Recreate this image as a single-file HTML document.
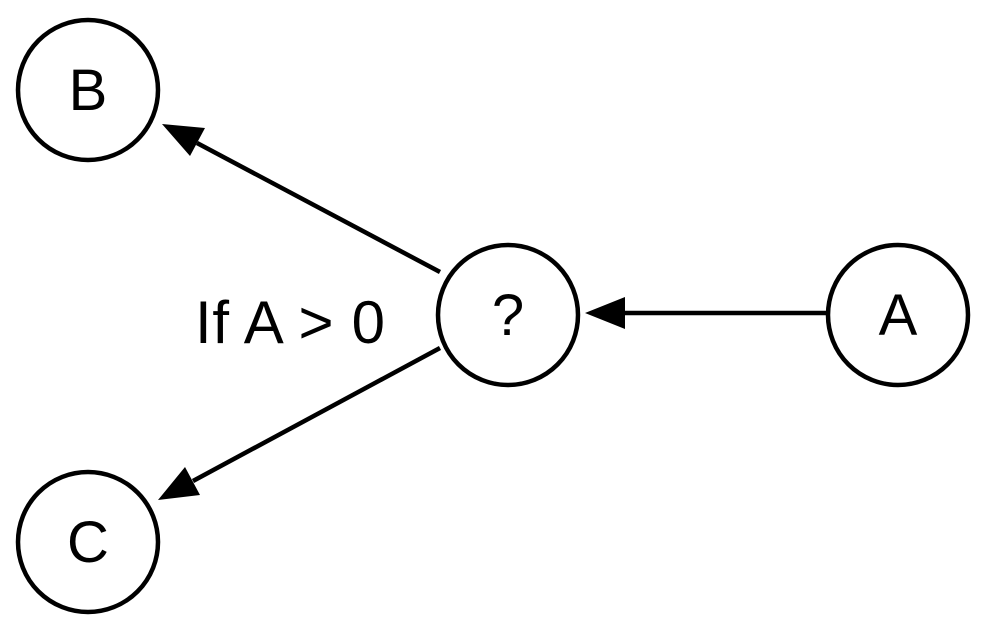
<!DOCTYPE html>
<html><head><meta charset="utf-8"><style>html,body{margin:0;padding:0;background:#fff}</style></head>
<body>
<svg width="983" height="620" viewBox="0 0 983 620" xmlns="http://www.w3.org/2000/svg" font-family="Liberation Sans, sans-serif">
<g fill="#000" stroke="#000" stroke-width="4.5">
<path d="M828,313 L625,313" fill="none"/>
<path d="M585,313 L625,297 L625,329 z" stroke="none"/>
<path d="M440,272 L197,143" fill="none"/>
<path d="M162,124 L205,128 L190,156 z" stroke="none"/>
<path d="M440,348 L193,481" fill="none"/>
<path d="M158,500 L185,467 L200,495 z" stroke="none"/>
</g>
<g fill="#fff" stroke="#000" stroke-width="4.5">
<circle cx="88" cy="90" r="70"/>
<circle cx="88" cy="542" r="70"/>
<circle cx="508" cy="315" r="70"/>
<circle cx="898" cy="315" r="70"/>
</g>
<g font-size="58" text-anchor="middle" fill="#000">
<text x="88" y="110">B</text>
<text x="88" y="562">C</text>
<text x="508" y="335">?</text>
<text x="898" y="335">A</text>
</g>
<text x="195" y="343" font-size="60" fill="#000" textLength="190">If A &gt; 0</text>
</svg>
</body></html>
